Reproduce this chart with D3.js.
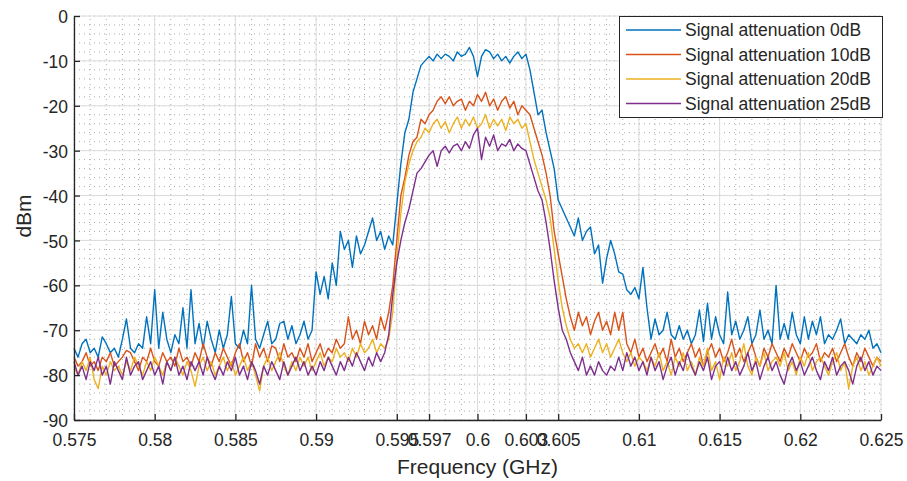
<!DOCTYPE html>
<html>
<head>
<meta charset="utf-8">
<script src="https://cdn.jsdelivr.net/npm/d3@7"></script>
<style>
  body { margin: 0; background: #fff; }
  svg { display: block; }
  text { font-family: "Liberation Sans", Arial, Helvetica, sans-serif; fill: #262626; }
</style>
</head>
<body>
<svg id="chart" width="907" height="481"></svg>
<script>
// sweep: 0.575 .. 0.625 GHz, 201 points
const freqStart = 0.575;
const freqStep = 0.00025;

const seriesNames = [
  'Signal attenuation 0dB',
  'Signal attenuation 10dB',
  'Signal attenuation 20dB',
  'Signal attenuation 25dB'
];

const att0dB = [
  -74,-76,-73,-72,-75,-74,-76,-71.5,-73,-75,
  -74,-76,-72,-67.5,-74,-75,-73,-74,-67,-73,
  -61,-74,-66,-72,-75,-71,-73,-65,-74,-61,
  -73,-68.5,-74,-68,-72,-75,-70,-74,-71,-62.5,
  -73,-74,-70,-73,-60,-72,-74,-71,-68,-73,
  -72,-68.5,-68,-72,-69,-73,-71,-68,-72,-70,
  -57,-62,-58,-63,-55,-60,-48,-52,-50,-56,
  -49,-53,-51,-48,-45,-50,-48,-52,-49,-51,
  -42,-33,-26,-23,-17,-14,-11,-10,-9,-10,
  -8.5,-9.5,-8.5,-9,-10,-8,-9,-8.5,-7,-9,
  -13.5,-9,-7.5,-8,-9.5,-8.5,-10,-9,-10.5,-9,
  -8,-9.5,-8.5,-12,-17,-22,-21,-26,-30,-34,
  -41,-43,-45,-47,-49,-45,-50,-48,-47,-53,
  -51,-59.5,-54,-50,-53,-57,-57.5,-61,-62,-60.5,
  -63,-56,-65,-72,-67.5,-71,-70,-66,-71,-72,
  -69,-72,-70,-73,-71,-65.5,-72.5,-64,-72,-67,
  -71,-73,-61.5,-71,-68,-72,-70,-67,-73,-71,
  -65.5,-72,-70,-73,-60,-72,-68.5,-72,-66,-71,
  -73,-67,-72,-68,-71,-67,-73,-71,-72,-70,
  -67.5,-73,-71,-72,-73,-71,-72,-70,-74,-73,-75
];

const att10dB = [
  -76,-78,-77,-75,-78,-77,-79,-76,-77,-75,
  -78,-77,-76,-74.5,-75,-77,-79,-76,-77,-74,
  -77,-78,-75,-77,-76,-78,-74,-77,-76,-78,
  -75,-77,-73,-76,-78,-75,-77,-74,-76,-78,
  -75,-73,-77,-75,-78,-73,-76,-74,-77,-73.5,
  -74,-77,-73,-76,-75,-77,-74,-76,-73,-77,
  -75,-73,-76,-74,-75,-72,-74,-73,-67,-72,
  -70,-73,-68,-71,-69,-72,-67,-70,-66,-60,
  -50,-40,-36,-31,-28,-27,-23,-24,-22,-21,
  -19,-18,-19.5,-18,-20,-19,-18.5,-21,-19,-20,
  -17.5,-19,-17,-20,-18.5,-21,-19,-18,-20.5,-19,
  -22,-20,-21,-22,-25,-28,-31,-35,-40,-48,
  -53,-58,-63,-67,-70,-66,-69,-67,-71,-68,
  -66,-70,-68,-71,-66,-70,-66,-73,-75,-72,
  -76,-74,-77,-75,-73,-76,-74,-77,-72,-76,
  -74,-77,-75,-73,-76,-74,-78,-75,-73,-76,
  -74,-77,-75,-72,-76,-74,-77,-75,-73,-76,
  -78,-74,-76,-73,-75,-77,-74,-76,-73,-75,
  -77,-74,-76,-75,-73,-77,-75,-76,-74,-77,
  -75,-73,-76,-78,-75,-77,-74,-76,-78,-76,-77
];

const att20dB = [
  -78,-80,-77,-79,-76,-81,-83,-78,-80,-77,
  -79,-78,-80,-77,-79,-76,-78,-80,-77,-79,
  -76,-78,-80,-77,-79,-76,-78,-80,-77,-79,
  -82.5,-78,-76,-79,-77,-80,-78,-76,-79,-77,
  -80,-78,-76,-79,-77,-80,-83.5,-78,-76,-79,
  -77,-75,-78,-80,-77,-79,-76,-78,-76,-79,
  -77,-75,-78,-76,-77,-74,-76,-75,-77,-74,
  -76,-73,-75,-74,-72,-75,-73,-74,-72,-66,
  -54,-44,-37,-33,-30,-28,-27,-25,-26,-24,
  -23,-25,-23.5,-26,-24,-22.5,-25,-23,-24.5,-22.5,
  -25,-24,-22,-25,-23,-24.5,-23,-25.5,-22.5,-24,
  -23,-25,-24,-28,-32,-35,-38,-41,-45,-52,
  -59,-65,-69,-72,-74,-73,-75,-73,-76,-74,
  -72,-75,-73,-76,-74,-72,-75,-77,-75,-78,
  -76,-77,-79,-76,-78,-75,-79,-77,-80,-76,
  -78,-75,-79,-77,-80,-76,-78,-74,-79,-77,
  -81,-76,-78,-75,-79,-77,-73,-78,-80,-76,
  -78,-75,-79,-77,-76,-78,-75,-79,-77,-80,
  -76,-78,-75,-79,-77,-76,-78,-80,-77,-75,
  -79,-77,-83,-78,-76,-79,-77,-80,-78,-76,-78
];

const att25dB = [
  -77,-80,-78,-81,-77,-79,-76,-80,-78,-82,
  -77,-79,-81,-76,-80,-78,-77,-81,-79,-77,
  -80,-78,-82,-77,-79,-76,-80,-78,-81,-77,
  -79,-77,-80,-76,-79,-81,-78,-80,-77,-79,
  -76,-80,-78,-81,-77,-79,-82,-78,-80,-77,
  -79,-81,-77,-80,-78,-76,-79,-77,-80,-78,
  -80,-77,-79,-76,-78,-80,-77,-79,-76,-78,
  -75,-77,-79,-76,-78,-75,-77,-75,-71,-62,
  -55,-50,-46,-43,-39,-35,-34,-32.5,-31,-30,
  -33.5,-30,-29,-30.5,-29,-28.5,-30,-28,-29.5,-26.5,
  -25,-32,-27,-29,-26.5,-30,-28.5,-29,-27.5,-30,
  -28.5,-29.5,-30,-33,-36,-39,-41,-46,-52,-59,
  -65,-70,-72,-75,-77,-79,-76,-80,-78,-80,
  -77,-79,-80,-78,-79,-76,-79,-75,-78,-76,
  -79,-77,-80,-76,-79,-77,-81,-78,-76,-80,
  -77,-79,-75,-78,-80,-77,-79,-76,-81,-78,
  -77,-80,-76,-79,-77,-80,-78,-75,-79,-77,
  -81,-78,-76,-79,-77,-80,-82,-78,-76,-79,
  -77,-80,-78,-76,-79,-81,-77,-79,-76,-80,
  -78,-77,-79,-82,-78,-76,-79,-77,-80,-78,-79
];

const xTicks = [0.575, 0.58, 0.585, 0.59, 0.595, 0.597, 0.6, 0.603, 0.605, 0.61, 0.615, 0.62, 0.625];
const xTickLabels = ['0.575', '0.58', '0.585', '0.59', '0.595', '0.597', '0.6', '0.603', '0.605', '0.61', '0.615', '0.62', '0.625'];
const yTicks = [-90, -80, -70, -60, -50, -40, -30, -20, -10, 0];

const colors = ['#0072BD', '#D95319', '#EDB120', '#7E2F8E'];

const width = 907;
const height = 481;
const margin = { top: 16, right: 26, bottom: 61, left: 74 };

const svg = d3.select('#chart');

const x = d3.scaleLinear()
  .domain([0.575, 0.625])
  .range([margin.left, width - margin.right]);

const y = d3.scaleLinear()
  .domain([-90, 0])
  .range([height - margin.bottom, margin.top]);

const allSeries = [att0dB, att10dB, att20dB, att25dB].map((vals, k) => ({
  name: seriesNames[k],
  color: colors[k],
  points: vals.map((v, i) => ({ f: freqStart + i * freqStep, v: v }))
}));

// minor grid (dotted)
const minorX = d3.range(0, 51).map(i => 0.575 + i * 0.001);
const minorY = d3.range(-90, 1, 2);

const grid = svg.append('g');

grid.selectAll('.minor-x')
  .data(minorX)
  .enter()
  .append('line')
  .attr('x1', d => x(d)).attr('x2', d => x(d))
  .attr('y1', y(-90)).attr('y2', y(0))
  .attr('stroke', '#aaaaaa')
  .attr('stroke-width', 1)
  .attr('stroke-dasharray', '1,4');

grid.selectAll('.minor-y')
  .data(minorY)
  .enter()
  .append('line')
  .attr('x1', x(0.575)).attr('x2', x(0.625))
  .attr('y1', d => y(d)).attr('y2', d => y(d))
  .attr('stroke', '#aaaaaa')
  .attr('stroke-width', 1)
  .attr('stroke-dasharray', '1,4');

// major grid
grid.selectAll('.major-x')
  .data(xTicks)
  .enter()
  .append('line')
  .attr('x1', d => x(d)).attr('x2', d => x(d))
  .attr('y1', y(-90)).attr('y2', y(0))
  .attr('stroke', '#dcdcdc')
  .attr('stroke-width', 1);

grid.selectAll('.major-y')
  .data(yTicks)
  .enter()
  .append('line')
  .attr('x1', x(0.575)).attr('x2', x(0.625))
  .attr('y1', d => y(d)).attr('y2', d => y(d))
  .attr('stroke', '#dcdcdc')
  .attr('stroke-width', 1);

// traces
const line = d3.line()
  .x(d => x(d.f))
  .y(d => y(d.v));

svg.append('g')
  .selectAll('path')
  .data(allSeries)
  .enter()
  .append('path')
  .attr('d', d => line(d.points))
  .attr('fill', 'none')
  .attr('stroke', d => d.color)
  .attr('stroke-width', 1.4)
  .attr('stroke-linejoin', 'round');

// axes
const xAxis = d3.axisBottom(x)
  .tickValues(xTicks)
  .tickFormat((d, i) => xTickLabels[i])
  .tickSizeInner(-6)
  .tickSizeOuter(0)
  .tickPadding(14);

const yAxis = d3.axisLeft(y)
  .tickValues(yTicks)
  .tickFormat(d => d)
  .tickSizeInner(-6)
  .tickSizeOuter(0)
  .tickPadding(6);

const gx = svg.append('g')
  .attr('transform', `translate(0, ${y(-90)})`)
  .call(xAxis);

const gy = svg.append('g')
  .attr('transform', `translate(${x(0.575)}, 0)`)
  .call(yAxis);

[gx, gy].forEach(g => {
  g.select('.domain').attr('stroke', '#262626').attr('stroke-width', 1.3);
  g.selectAll('.tick line').attr('stroke', '#262626').attr('stroke-width', 1.3);
  g.selectAll('.tick text')
    .attr('fill', '#262626')
    .style('font-family', '"Liberation Sans", Arial, sans-serif')
    .style('font-size', '17.5px');
});

gy.selectAll('.tick text').attr('dy', '0.38em');

// axis titles
svg.append('text')
  .attr('x', (x(0.575) + x(0.625)) / 2)
  .attr('y', 474)
  .attr('text-anchor', 'middle')
  .style('font-size', '21px')
  .text('Frequency (GHz)');

svg.append('text')
  .attr('transform', 'translate(31, 216) rotate(-90)')
  .attr('text-anchor', 'middle')
  .style('font-size', '21px')
  .text('dBm');

// legend
const legend = svg.append('g');

legend.append('rect')
  .attr('x', 619.5)
  .attr('y', 16.5)
  .attr('width', 263)
  .attr('height', 101)
  .attr('fill', '#fff')
  .attr('stroke', '#262626')
  .attr('stroke-width', 1);

const rows = legend.selectAll('.row')
  .data(allSeries)
  .enter()
  .append('g')
  .attr('transform', (d, i) => `translate(0, ${30 + i * 24.5})`);

rows.append('line')
  .attr('x1', 626).attr('x2', 681)
  .attr('y1', 0).attr('y2', 0)
  .attr('stroke', d => d.color)
  .attr('stroke-width', 1.4);

rows.append('text')
  .attr('x', 685)
  .attr('y', 0)
  .attr('dy', '0.36em')
  .style('font-size', '17.5px')
  .text(d => d.name);
</script>
</body>
</html>
